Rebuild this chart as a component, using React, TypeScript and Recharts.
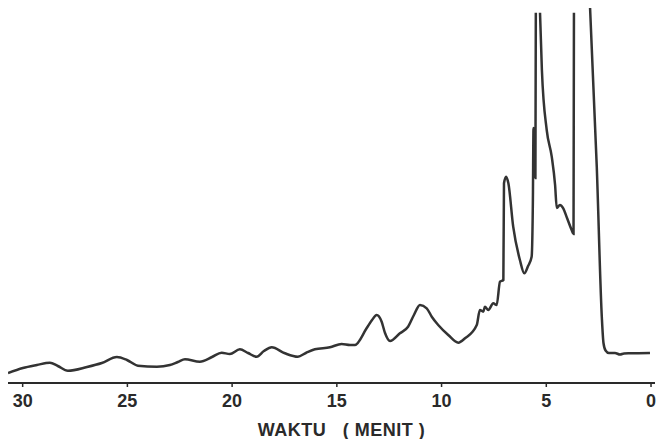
import React from 'react';
import { LineChart, Line, XAxis, YAxis } from 'recharts';

// Retention time (minutes) and detector signal (arbitrary units); null = pen off the chart
const timeMin = [
  30.70, 29.99, 29.32, 28.70, 28.32, 27.84, 26.93, 26.22, 25.50, 25.02,
  24.50, 23.59, 22.97, 22.59, 22.25, 21.54, 20.96, 20.50, 20.11, 19.63,
  19.24, 18.83, 18.48, 18.11, 17.48, 16.86, 16.48, 16.05, 15.33, 14.77,
  14.37, 14.14, 13.58, 13.32, 13.10, 12.86, 12.70, 12.46, 11.99, 11.60,
  11.32, 11.03, 10.71, 10.46, 10.16, 9.68, 9.20, 8.88, 8.32, 8.17,
  8.01, 7.93, 7.77, 7.53, 7.37, 7.21, 7.05, 7.02, 6.92, 6.81,
  6.58, 6.26, 6.05, 5.87, 5.70, 5.64, 5.61, 5.56, 5.52, 5.50,
  5.40, 5.30, 5.21, 4.98, 4.74, 4.58, 4.50, 4.35, 4.19, 4.01,
  3.79, 3.70, 3.68, 3.30, 2.91, 2.59, 2.35, 2.27, 2.17, 2.01,
  1.72, 1.48, 1.29, 1.00, 0.05,
];
const signal: (number | null)[] = [
  10, 15, 18, 20.3, 17, 12.3, 16, 20, 26, 23,
  17.3, 16.3, 18, 21, 23.7, 21.3, 26, 30.3, 29, 33.7,
  30, 26.3, 32, 35.7, 29.7, 26.3, 30, 33.7, 35.7, 39,
  38, 38, 54.7, 63, 68, 61.3, 50, 42, 49.7, 56.3,
  68, 78, 74.7, 66, 58, 48, 40.3, 44.7, 58, 73,
  71.3, 76.3, 73, 79.7, 78, 101.3, 103, 199.7, 206.3, 199.7,
  156.3, 123, 109.7, 117, 126.3, 183, 255, 233, 205, 370.3,
  null, 370.3, 313, 253, 226.3, 198, 175, 178, 174.7, 165,
  153, 149, 370.3, null, 375, 216.3, 66.3, 40, 32.5, 30,
  30, 28.5, 29.5, 29.7, 30,
];
const xTicks = [0, 5, 10, 15, 20, 25, 30];
const xTitle = 'WAKTU   ( MENIT )';

const data = timeMin.map((t, i) => ({ t, v: signal[i] }));

const ink = '#2a2a2a';

export default function App() {
  return (
    <div style={{ position: 'absolute', left: 0, top: 0, width: 658, height: 439, background: '#ffffff', overflow: 'hidden' }}>
      <LineChart width={658} height={439} data={data} margin={{ top: 0, right: 3, bottom: 26, left: 8 }}>
        <XAxis
          dataKey="t"
          type="number"
          domain={[-0.19, 30.7]}
          reversed
          allowDataOverflow
          ticks={xTicks}
          interval={0}
          tickSize={4}
          tickMargin={7}
          height={30}
          axisLine={{ stroke: ink, strokeWidth: 2 }}
          tickLine={{ stroke: ink, strokeWidth: 1.5 }}
          tick={{ fill: ink, fontSize: 18, fontWeight: 'bold', fontFamily: 'Liberation Sans, Arial, sans-serif' }}
        />
        <YAxis hide width={0} domain={[0, 383]} allowDataOverflow />
        <Line
          dataKey="v"
          type="monotone"
          stroke="#333333"
          strokeWidth={2.5}
          dot={false}
          connectNulls={false}
          isAnimationActive={false}
        />
      </LineChart>
      <div
        style={{
          position: 'absolute',
          left: 0,
          width: 683,
          top: 421,
          textAlign: 'center',
          fontFamily: 'Liberation Sans, Arial, sans-serif',
          fontSize: 18,
          fontWeight: 'bold',
          lineHeight: '18px',
          letterSpacing: 0.5,
          whiteSpace: 'pre',
          color: ink,
        }}
      >
        {xTitle}
      </div>
    </div>
  );
}
